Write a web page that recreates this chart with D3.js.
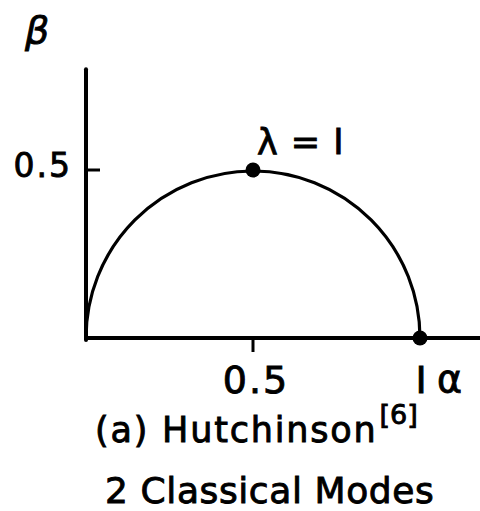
<!DOCTYPE html>
<html>
<head>
<meta charset="utf-8">
<script src="https://cdn.jsdelivr.net/npm/d3@7"></script>
<style>
  html, body { margin: 0; padding: 0; background: #fff; }
  svg text { font-family: "DejaVu Sans", sans-serif; fill: #000; stroke: #000; stroke-width: 0.9px; }
</style>
</head>
<body>
<div id="chart"></div>
<script>
// Locus of classical modes in the (alpha, beta) plane
const circleCenter = [0.5, 0];
const circleRadius = 0.5;
const markedPoints = [
  { alpha: 0.5, beta: 0.5, label: "λ = I" },
  { alpha: 1, beta: 0, label: "" }
];
const xTickValues = [0.5, 1];
const xTickLabels = ["0.5", "I"];
const yTickValues = [0.5];
const yTickLabels = ["0.5"];
const titleLines = ["(a) Hutchinson", "2 Classical Modes"];
const titleRef = "[6]";

const width = 480, height = 511;
const svg = d3.select("#chart").append("svg")
  .attr("width", width).attr("height", height);

const x = d3.scaleLinear().domain([0, 1]).range([86, 420]);
const y = d3.scaleLinear().domain([0, 0.5]).range([338, 170]);

// axes
svg.append("line")
  .attr("x1", x(0)).attr("x2", x(1.18))
  .attr("y1", y(0)).attr("y2", y(0))
  .attr("stroke", "#000").attr("stroke-width", 4);
svg.append("line")
  .attr("x1", x(0)).attr("x2", x(0))
  .attr("y1", y(0) + 2).attr("y2", y(0.8))
  .attr("stroke", "#000").attr("stroke-width", 4).attr("stroke-linecap", "round");

// y ticks (inward)
yTickValues.forEach((v, i) => {
  svg.append("line")
    .attr("x1", x(0)).attr("x2", x(0) + 14)
    .attr("y1", y(v)).attr("y2", y(v))
    .attr("stroke", "#000").attr("stroke-width", 3);
  svg.append("text")
    .attr("x", x(0) - 14).attr("y", y(v) + 7)
    .attr("text-anchor", "end")
    .attr("font-size", 33).attr("letter-spacing", 2)
    .text(yTickLabels[i]);
});

// x ticks (short, downward) and labels
svg.append("line")
  .attr("x1", x(0.5)).attr("x2", x(0.5))
  .attr("y1", y(0)).attr("y2", y(0) + 14)
  .attr("stroke", "#000").attr("stroke-width", 3);
xTickValues.forEach((v, i) => {
  svg.append("text")
    .attr("x", x(v) + (i === 0 ? 3 : 1)).attr("y", y(0) + 55)
    .attr("text-anchor", "middle")
    .attr("font-size", 38).attr("letter-spacing", i === 0 ? 2 : 0)
    .text(xTickLabels[i]);
});

// axis names
svg.append("text")
  .attr("x", x(1) + 17).attr("y", y(0) + 54)
  .attr("font-size", 38)
  .text("α");
svg.append("text")
  .attr("x", 25).attr("y", 43)
  .attr("font-size", 38).attr("font-style", "italic")
  .text("β");

// semicircle
const p = d3.path();
const r = x(circleRadius) - x(0);
p.arc(x(circleCenter[0]), y(circleCenter[1]), r, Math.PI, 2 * Math.PI);
svg.append("path")
  .attr("d", p.toString())
  .attr("fill", "none").attr("stroke", "#000").attr("stroke-width", 3.2);

// marked points
svg.selectAll("circle.pt").data(markedPoints).enter().append("circle")
  .attr("class", "pt")
  .attr("cx", d => x(d.alpha)).attr("cy", d => y(d.beta))
  .attr("r", 7.5).attr("fill", "#000");
svg.selectAll("text.pl").data(markedPoints.filter(d => d.label)).enter().append("text")
  .attr("class", "pl")
  .attr("x", d => x(d.alpha) + 4).attr("y", d => y(d.beta) - 16)
  .attr("font-size", 35).attr("letter-spacing", 1)
  .text(d => d.label);

// caption
const t1 = svg.append("text")
  .attr("x", 95).attr("y", 442)
  .attr("font-size", 35).attr("letter-spacing", 1.8);
t1.append("tspan").text(titleLines[0]);
t1.append("tspan").attr("dx", 2).attr("dy", -18).attr("font-size", 27).attr("letter-spacing", 0).text(titleRef);
svg.append("text")
  .attr("x", 105).attr("y", 503)
  .attr("font-size", 36).attr("letter-spacing", 0.6)
  .text(titleLines[1]);
</script>
</body>
</html>
